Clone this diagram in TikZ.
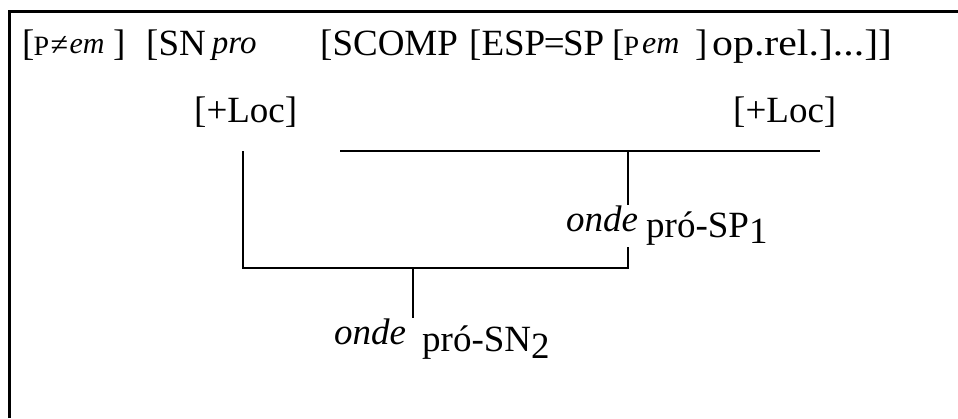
\documentclass[tikz,border=0pt]{standalone}
\usepackage{fontspec}
\setmainfont{Liberation Serif}
\begin{document}
\begin{tikzpicture}[x=1pt,y=-1pt,
  txt/.style={inner sep=0pt, anchor=base west, font=\fontsize{37}{44}\selectfont},
  ln/.style={line width=1.5pt},
  frame/.style={line width=3pt}]
\useasboundingbox (0,0) rectangle (958,418);
\draw[frame] (9.5,418) -- (9.5,11.5) -- (958,11.5);
% row 1
\node[txt] (g1) at (22,55) {[\kern-1pt{\fontsize{28}{30}\selectfont P}\kern1.5pt{\fontsize{32}{34}\selectfont ≠}\kern1.5pt\raisebox{2pt}{\fontsize{30}{32}\selectfont\textit{em}}};
\node[txt] (g1b) at (113,55) {]};
\node[txt] (g2) at (146,55) {[SN\,\raisebox{2pt}{\fontsize{33}{36}\selectfont\textit{pro}}};
\node[txt] (g3) at (320,55) {[SCOMP};
\node[txt] (g4) at (469,55) {[ESP\kern-1.5pt=\kern-1.5ptSP};
\node[txt] (g5) at (612,55) {[\kern-1pt{\fontsize{28}{30}\selectfont P}\kern3pt\raisebox{2pt}{\fontsize{32}{36}\selectfont\textit{em}}};
\node[txt] (g5b) at (695,55) {]};
\node[txt] (g6) at (712,55) {\scalebox{1.13}[1]{op.rel.]...]]}};
% row 2
\node[txt] (loc1) at (194,122) {[+Loc]};
\node[txt] (loc2) at (733,122) {[+Loc]};
% lower labels
\node[txt] (o1) at (566,231) {\textit{onde}};
\node[txt] (p1) at (646,237) {pró-SP\raisebox{-6pt}{1}};
\node[txt] (o2) at (334,344) {\textit{onde}};
\node[txt] (p2) at (422,351) {pró-SN\raisebox{-7pt}{2}};
% connectors
\coordinate (ua) at (340,151);
\coordinate (ub) at (820,151);
\coordinate (um) at (628,151);
\coordinate (umb) at (628,205);
\coordinate (lmt) at (628,247);
\coordinate (lm) at (628,268);
\coordinate (ll) at (243,268);
\coordinate (lt) at (243,151);
\coordinate (lc) at (413,268);
\coordinate (lcb) at (413,318);
\draw[ln] (ua) -- (ub);
\draw[ln] (um) -- (umb);
\draw[ln] (lt) -- (ll) -- (lm) -- (lmt);
\draw[ln] (lc) -- (lcb);
\end{tikzpicture}
\end{document}
